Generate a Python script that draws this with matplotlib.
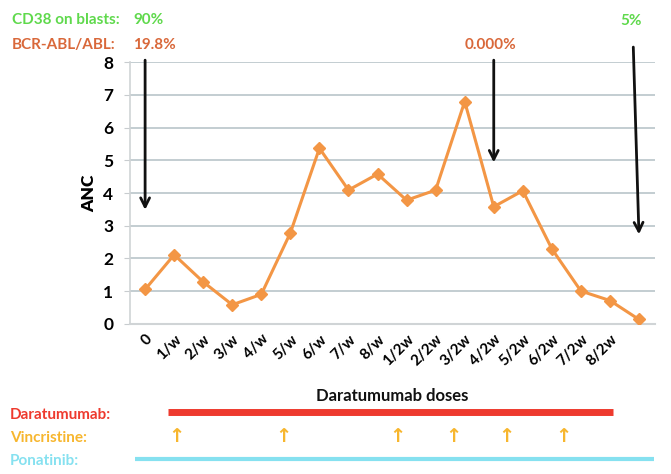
import matplotlib.pyplot as plt
import matplotlib.transforms as mtransforms

plt.rcParams['font.family'] = ['Lato', 'DejaVu Sans']

# data
doses = ["0", "1/w", "2/w", "3/w", "4/w", "5/w", "6/w", "7/w", "8/w",
         "1/2w", "2/2w", "3/2w", "4/2w", "5/2w", "6/2w", "7/2w", "8/2w", ""]
anc = [1.05, 2.11, 1.28, 0.58, 0.90, 2.78, 5.37, 4.09, 4.58,
       3.78, 4.09, 6.80, 3.58, 4.07, 2.29, 1.00, 0.71, 0.13]

# marker arrows: (x index at top, x index at tip, top value, tip value)
arrow_x_top = [0, 12, 16.8]
arrow_x_tip = [0, 12, 17.0]
arrow_y_top = [8.15, 8.15, 8.55]
arrow_y_tip = [3.4, 4.85, 2.65]

daratumumab_span = [0.8, 16.1]
vincristine_doses = [1.07, 4.75, 8.7, 10.6, 12.45, 14.4]
ponatinib_span = [-0.35, 17.5]

ORANGE = "#f39645"
GREEN = "#5fd94c"
BROWN = "#d9683a"
RED = "#ee3a2e"
YELLOW = "#f7b62e"
CYAN = "#86e1f0"
GRID = "#b9c5c9"

fig = plt.figure(figsize=(6.71, 4.74), dpi=100)
ax = fig.add_axes([130 / 671, 0.317, (655 - 130) / 671, 0.8686 - 0.317])

x = list(range(len(anc)))
ax.plot(x, anc, color=ORANGE, lw=2.2, marker="D", ms=6.5, zorder=3)

ax.set_xlim(-0.52, 17.55)
ax.set_ylim(0, 8)
ax.set_yticks(range(0, 9))
ax.yaxis.grid(True, color=GRID, lw=1.2)
ax.set_axisbelow(True)
for s in ["top", "right"]:
    ax.spines[s].set_visible(False)
ax.spines["left"].set_color("#d0d4d6")
ax.spines["bottom"].set_color("#d0d4d6")
ax.spines["left"].set_linewidth(1.2)
ax.spines["bottom"].set_linewidth(1.5)
ax.tick_params(axis="y", length=4, color="#c8cccf", labelsize=12.5, pad=8)
ax.tick_params(axis="x", length=0, labelsize=11, pad=6)
for lab in ax.get_yticklabels():
    lab.set_fontweight("bold")
ax.set_xticks(x)
ax.set_xticklabels(doses, rotation=45, ha="right", va="top",
                   rotation_mode="anchor", fontweight="bold")
ax.set_ylabel("ANC", fontsize=12.5, fontweight="heavy", labelpad=4)

# arrows
for xt, xb, yt, yb in zip(arrow_x_top, arrow_x_tip, arrow_y_top, arrow_y_tip):
    ax.annotate("", xy=(xb, yb), xytext=(xt, yt),
                arrowprops=dict(arrowstyle="->", color="#111111", lw=2,
                                mutation_scale=16),
                annotation_clip=False)

# top annotations
fs = 11
fig.text(12 / 671, 1 - 20 / 474, "CD38 on blasts:", color=GREEN,
         fontsize=fs, fontweight="bold", va="center")
fig.text(133 / 671, 1 - 20 / 474, "90%", color=GREEN,
         fontsize=fs, fontweight="bold", va="center")
fig.text(12 / 671, 1 - 45 / 474, "BCR-ABL/ABL:", color=BROWN,
         fontsize=fs, fontweight="bold", va="center")
fig.text(133 / 671, 1 - 45 / 474, "19.8%", color=BROWN,
         fontsize=fs, fontweight="bold", va="center")
fig.text(465 / 671, 1 - 45 / 474, "0.000%", color=BROWN,
         fontsize=fs, fontweight="bold", va="center")
fig.text(620 / 671, 1 - 21 / 474, "5%", color=GREEN,
         fontsize=fs, fontweight="bold", va="center")

# treatment rows
fig.text(392 / 671, 1 - 396 / 474, "Daratumumab doses", ha="center",
         va="center", fontsize=12, fontweight="bold", color="#111111")
trans = mtransforms.blended_transform_factory(ax.transData, fig.transFigure)

fig.text(10 / 671, 1 - 415 / 474, "Daratumumab:", color=RED,
         fontsize=fs, fontweight="bold", va="center")
ax.plot(daratumumab_span, [1 - 412 / 474] * 2, color=RED, lw=5,
        transform=trans, clip_on=False, solid_capstyle="butt")

fig.text(10 / 671, 1 - 438 / 474, "Vincristine:", color=YELLOW,
         fontsize=fs, fontweight="bold", va="center")
for v in vincristine_doses:
    ax.text(v, 1 - 437 / 474, "\u2191", color=YELLOW, fontsize=14,
            ha="center", va="center", transform=trans,
            family=["DejaVu Sans"], fontweight="bold")

fig.text(10 / 671, 1 - 461 / 474, "Ponatinib:", color=CYAN,
         fontsize=fs, fontweight="bold", va="center")
ax.plot(ponatinib_span, [1 - 459 / 474] * 2, color=CYAN, lw=3,
        transform=trans, clip_on=False, solid_capstyle="butt")

fig.savefig("out.png", dpi=100)
